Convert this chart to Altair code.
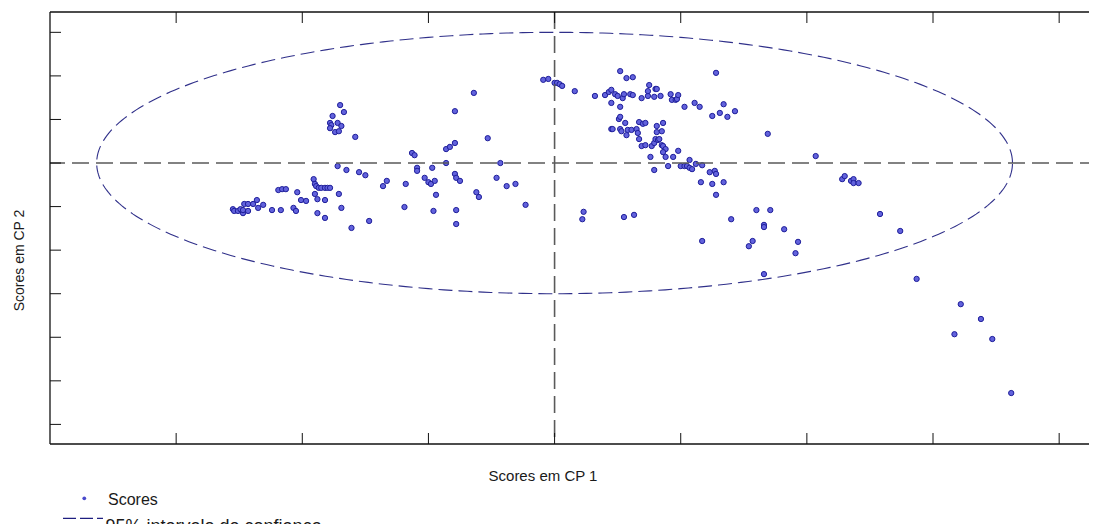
import altair as alt
import numpy as np
import pandas as pd

# ---- data (PCA scores, arbitrary units: 1 unit = one tick step) ----
score_x = [
    -2.55, -2.54, -2.51, -2.49, -2.47, -2.47, -2.43, -2.46, -2.43, -2.36,
    -2.39, -2.35, -2.31, -2.24, -2.17, -2.19, -2.16, -2.13, -2.07, -2.05,
    -2.04, -2.01, -1.97, -1.91, -1.90, -1.89, -1.87, -1.85, -1.82, -1.80,
    -1.78, -1.90, -1.88, -1.82, -1.88, -1.82, -1.71, -1.69, -1.61, -1.47,
    -1.72, -1.65, -1.55, -1.50, -1.36, -1.33, -1.70, -1.67, -1.76, -1.78,
    -1.77, -1.72, -1.69, -1.78, -1.74, -1.71, -1.58, -0.64, -0.79, -0.53,
    -0.86, -0.83, -0.79, -1.13, -1.11, -0.86, -0.43, -1.09, -1.09, -0.97,
    -1.18, -1.03, -1.00, -0.98, -0.95, -0.94, -0.79, -0.78, -0.75, -0.62,
    -0.60, -0.46, -0.38, -0.31, -1.19, -0.96, -0.78, -0.78, -0.23, -0.09,
    -0.05, 0.00, 0.02, 0.04, 0.06, 0.16, 0.32, 0.40, 0.43, 0.45,
    0.48, 0.50, 0.54, 0.55, 0.52, 0.57, 0.62, 0.45, 0.52, 0.60,
    0.62, 0.69, 0.74, 0.74, 0.75, 0.79, 0.80, 0.81, 0.84, 0.92,
    0.93, 0.96, 0.97, 0.98, 1.03, 1.11, 1.15, 1.28, 1.25, 1.31,
    1.34, 1.37, 1.43, 1.69, 0.51, 0.52, 0.45, 0.46, 0.52, 0.53,
    0.57, 0.58, 0.61, 0.65, 0.66, 0.56, 0.67, 0.70, 0.72, 0.67,
    0.69, 0.72, 0.77, 0.79, 0.80, 0.81, 0.81, 0.86, 0.85, 0.82,
    0.83, 0.85, 0.86, 0.88, 0.86, 0.76, 0.88, 0.94, 0.98, 0.79,
    0.90, 1.00, 1.03, 1.05, 1.07, 1.09, 1.07, 1.12, 1.17, 1.23,
    1.27, 1.28, 1.16, 1.25, 1.34, 1.28, 0.23, 0.22, 0.55, 0.63,
    1.40, 1.60, 1.71, 1.66, 1.66, 1.82, 1.17, 1.57, 1.54, 1.93,
    1.91, 1.66, 2.07, 2.28, 2.30, 2.35, 2.37, 2.37, 2.41, 2.58,
    2.74, 2.87, 3.22, 3.38, 3.17, 3.47, 3.62,
]
score_y = [
    -1.06, -1.10, -1.10, -1.06, -1.15, -1.08, -1.10, -0.94, -0.94, -0.85,
    -0.94, -1.03, -0.96, -1.08, -1.08, -0.62, -0.60, -0.60, -1.03, -1.10,
    -0.67, -0.85, -0.87, -0.37, -0.48, -0.53, -0.57, -0.57, -0.57, -0.57,
    -0.57, -0.71, -0.83, -0.85, -1.15, -1.26, -0.71, -1.03, -1.49, -1.33,
    -0.07, -0.16, -0.21, -0.28, -0.53, -0.41, 1.33, 1.17, 1.08, 0.92,
    0.87, 0.92, 0.85, 0.80, 0.71, 0.73, 0.60, 1.61, 1.19, 0.57,
    0.32, 0.37, 0.46, 0.23, 0.18, 0.00, 0.00, -0.11, -0.18, -0.11,
    -0.48, -0.34, -0.44, -0.48, -0.41, -0.73, -0.25, -0.34, -0.41, -0.67,
    -0.78, -0.34, -0.53, -0.48, -1.01, -1.10, -1.08, -1.40, -0.96, 1.91,
    1.93, 1.84, 1.84, 1.81, 1.77, 1.65, 1.54, 1.56, 1.63, 1.68,
    1.58, 1.54, 1.49, 1.58, 2.11, 1.95, 1.97, 1.38, 1.29, 1.58,
    1.56, 1.49, 1.54, 1.65, 1.79, 1.52, 1.70, 1.70, 1.54, 1.58,
    1.45, 1.45, 1.47, 1.56, 1.29, 1.38, 1.29, 2.07, 1.08, 1.15,
    1.35, 1.06, 1.19, 0.67, 1.01, 1.06, 0.78, 0.78, 0.78, 0.73,
    0.64, 0.76, 0.76, 0.78, 0.69, 0.92, 0.94, 0.90, 0.92, 0.55,
    0.39, 0.41, 0.39, 0.46, 0.55, 0.71, 0.85, 0.92, 0.73, 0.53,
    0.55, 0.41, 0.39, 0.32, 0.25, 0.14, 0.14, 0.14, 0.28, -0.16,
    -0.07, -0.07, -0.07, -0.07, -0.11, -0.14, 0.07, -0.02, -0.05, -0.21,
    -0.18, -0.25, -0.44, -0.48, -0.44, -0.73, -1.12, -1.29, -1.24, -1.19,
    -1.29, -1.08, -1.08, -1.42, -1.47, -1.52, -1.79, -1.79, -1.91, -1.81,
    -2.07, -2.55, 0.16, -0.37, -0.30, -0.41, -0.37, -0.46, -0.46, -1.17,
    -1.56, -2.66, -3.24, -3.58, -3.93, -4.04, -5.28,
]

# 95% confidence ellipse parameters (centre and semi-axes)
ellipse_center = [0.0, 0.0]
ellipse_semi_axes = [3.63, 3.0]

x_ticks = [-3, -2, -1, 0, 1, 2, 3, 4]
y_ticks = [3, 2, 1, 0, -1, -2, -3, -4, -5, -6]
x_domain = [-4.0, 4.30]
y_domain = [-6.45, 3.467]

x_title = "Scores em CP 1"
y_title = "Scores em CP 2"
legend_labels = ["Scores", "95% intervalo de confiança"]

# ---- layout / style ----
W, H = 1047, 432
FONT = "Liberation Sans"
TXT = "#1a1a1a"
TICK = 11

scores = pd.DataFrame({"x": score_x, "y": score_y})
t = np.linspace(0, 2 * np.pi, 361)
ellipse = pd.DataFrame({
    "x": ellipse_center[0] + ellipse_semi_axes[0] * np.cos(t),
    "y": ellipse_center[1] + ellipse_semi_axes[1] * np.sin(t),
    "i": np.arange(len(t)),
})
xt = pd.DataFrame({"v": x_ticks})
yt = pd.DataFrame({"v": y_ticks})
zero = pd.DataFrame({"v": [0.0]})
one = pd.DataFrame({"a": [0]})

xs = alt.Scale(domain=x_domain, nice=False, zero=False)
ys = alt.Scale(domain=y_domain, nice=False, zero=False)

points = alt.Chart(scores).mark_circle(
    size=28, fill="#6262dc", stroke="#1e1e9a", strokeWidth=1, opacity=1
).encode(
    x=alt.X("x:Q", scale=xs, axis=None),
    y=alt.Y("y:Q", scale=ys, axis=None),
)

ell = alt.Chart(ellipse).mark_line(
    color="#30308a", strokeWidth=1.1, strokeDash=[14, 6]
).encode(
    x=alt.X("x:Q", scale=xs, axis=None),
    y=alt.Y("y:Q", scale=ys, axis=None),
    order="i:Q",
)

hline = alt.Chart(zero).mark_rule(color="#5a5a5a", strokeWidth=1.6, strokeDash=[17, 7]).encode(
    y=alt.Y("v:Q", scale=ys, axis=None))
vline = alt.Chart(zero).mark_rule(color="#5a5a5a", strokeWidth=1.6, strokeDash=[17, 7]).encode(
    x=alt.X("v:Q", scale=xs, axis=None))

top_ticks = alt.Chart(xt).mark_rule(color="#111", strokeWidth=1).encode(
    x=alt.X("v:Q", scale=xs, axis=None), y=alt.value(0), y2=alt.value(TICK))
bot_ticks = alt.Chart(xt).mark_rule(color="#111", strokeWidth=1).encode(
    x=alt.X("v:Q", scale=xs, axis=None), y=alt.value(H), y2=alt.value(H - TICK))
left_ticks = alt.Chart(yt).mark_rule(color="#111", strokeWidth=1).encode(
    y=alt.Y("v:Q", scale=ys, axis=None), x=alt.value(0), x2=alt.value(TICK))

frame_top = alt.Chart(one).mark_rule(color="#111", strokeWidth=1.3).encode(
    x=alt.value(0), x2=alt.value(W), y=alt.value(0))
frame_bot = alt.Chart(one).mark_rule(color="#111", strokeWidth=1.3).encode(
    x=alt.value(0), x2=alt.value(W), y=alt.value(H))
frame_left = alt.Chart(one).mark_rule(color="#111", strokeWidth=1.3).encode(
    x=alt.value(0), y=alt.value(0), y2=alt.value(H))

# axis titles
xtitle = alt.Chart(pd.DataFrame({"t": [x_title]})).mark_text(
    align="center", baseline="alphabetic", font=FONT, fontSize=15, color=TXT
).encode(x=alt.value(493), y=alt.value(H + 37), text="t:N")
ytitle = alt.Chart(pd.DataFrame({"t": [y_title]})).mark_text(
    align="center", baseline="alphabetic", font=FONT, fontSize=14, color=TXT, angle=270
).encode(x=alt.value(-26), y=alt.value(248.5), text="t:N")

# legend (below the plot, left)
leg_dot = alt.Chart(one).mark_circle(size=14, color="#4a4acc", opacity=1).encode(
    x=alt.value(34.3), y=alt.value(486.3))
leg_t1 = alt.Chart(pd.DataFrame({"t": [legend_labels[0]]})).mark_text(
    align="left", baseline="alphabetic", font=FONT, fontSize=16, color=TXT
).encode(x=alt.value(58), y=alt.value(493), text="t:N")
leg_line = alt.Chart(one).mark_rule(color="#1e1e80", strokeWidth=1.2, strokeDash=[13, 4]).encode(
    x=alt.value(13), x2=alt.value(53), y=alt.value(506.3))
leg_t2 = alt.Chart(pd.DataFrame({"t": [legend_labels[1]]})).mark_text(
    align="left", baseline="alphabetic", font=FONT, fontSize=18, color=TXT
).encode(x=alt.value(55.5), y=alt.value(520), text="t:N")

chart = alt.layer(
    points, ell, hline, vline, top_ticks, bot_ticks, left_ticks,
    frame_top, frame_bot, frame_left, xtitle, ytitle,
    leg_dot, leg_t1, leg_line, leg_t2,
).properties(
    width=W, height=H,
    padding={"left": 42, "top": 4, "right": -8, "bottom": 80},
    autosize=alt.AutoSizeParams(type="none"),
).configure_view(strokeWidth=0, stroke="transparent")

chart.save("out.html", embed_options={"renderer": "svg", "actions": False})
